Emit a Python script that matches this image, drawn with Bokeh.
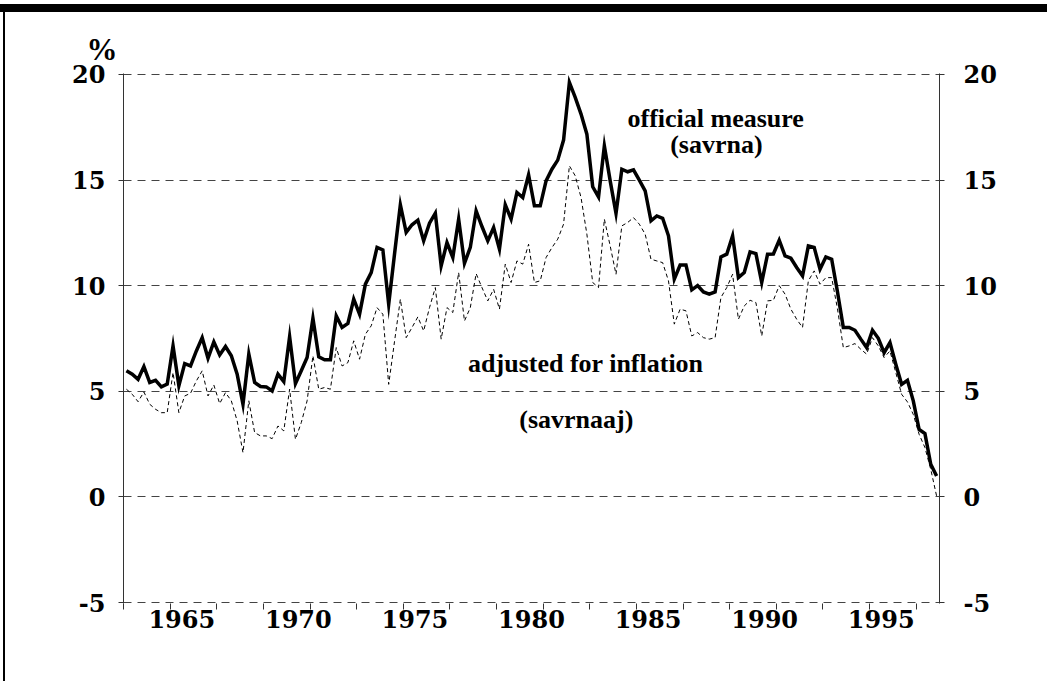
import pandas as pd
from bokeh.plotting import figure
from bokeh.models import Range1d, LinearAxis, FixedTicker, Label, InlineStyleSheet
from bokeh.embed import file_html
from bokeh.resources import INLINE

# ---------------- data (quarterly, 1963Q1 - 1997Q4) ----------------
quarters = pd.period_range("1963Q1", "1997Q4", freq="Q")

savrna = [
    5.97, 5.81, 5.57, 6.17, 5.42, 5.52, 5.21, 5.34, 7.15, 5.26,
    6.31, 6.20, 6.91, 7.54, 6.57, 7.34, 6.72, 7.12, 6.68, 5.81,
    4.39, 6.76, 5.42, 5.23, 5.21, 5.02, 5.81, 5.46, 7.59, 5.36,
    5.97, 6.60, 8.46, 6.63, 6.49, 6.49, 8.57, 8.02, 8.21, 9.36,
    8.65, 10.07, 10.62, 11.81, 11.69, 9.12, 11.50, 13.83, 12.52, 12.88,
    13.10, 12.12, 12.96, 13.43, 10.94, 12.04, 11.33, 13.15, 11.06, 11.81,
    13.54, 12.80, 12.12, 12.75, 11.73, 13.83, 13.15, 14.41, 14.17, 15.25,
    13.78, 13.78, 14.96, 15.51, 15.94, 16.89, 19.62, 18.91, 18.12, 17.17,
    14.68, 14.20, 16.62, 14.96, 13.42, 15.51, 15.39, 15.48, 14.99, 14.49,
    13.07, 13.30, 13.19, 12.36, 10.31, 10.98, 10.98, 9.80, 10.00, 9.70,
    9.60, 9.70, 11.36, 11.49, 12.36, 10.38, 10.62, 11.60, 11.52, 10.15,
    11.49, 11.50, 12.15, 11.41, 11.30, 10.86, 10.46, 11.88, 11.81, 10.78,
    11.36, 11.25, 9.70, 8.02, 8.02, 7.89, 7.47, 7.07, 7.89, 7.51,
    6.83, 7.31, 6.28, 5.33, 5.52, 4.55, 3.20, 3.00, 1.55, 0.99,
]

savrnaaj = [
    5.10, 4.86, 4.51, 4.97, 4.39, 4.15, 3.99, 3.99, 5.89, 3.99,
    4.78, 4.91, 5.49, 5.97, 4.78, 5.30, 4.42, 4.94, 4.55, 3.60,
    2.10, 4.55, 3.05, 2.89, 2.89, 2.76, 3.36, 3.13, 5.10, 2.73,
    3.52, 4.55, 6.68, 5.10, 5.18, 5.10, 7.07, 6.20, 6.36, 7.39,
    6.52, 7.70, 8.10, 8.96, 8.65, 5.33, 7.36, 9.36, 7.54, 8.02,
    8.52, 7.86, 8.96, 9.91, 7.47, 8.96, 8.73, 10.62, 8.33, 8.96,
    10.57, 9.91, 9.28, 9.83, 8.89, 11.02, 10.15, 11.17, 11.02, 11.96,
    10.15, 10.23, 11.33, 11.80, 12.20, 12.91, 15.67, 15.20, 14.17, 12.44,
    10.15, 9.91, 13.15, 11.88, 10.54, 12.83, 12.99, 13.22, 12.91, 12.44,
    11.25, 11.17, 11.09, 10.23, 8.18, 8.89, 8.81, 7.62, 7.78, 7.54,
    7.47, 7.54, 9.44, 9.91, 10.54, 8.41, 9.04, 9.31, 9.20, 7.62,
    9.28, 9.31, 10.00, 9.60, 8.89, 8.41, 8.02, 10.23, 10.70, 10.07,
    10.38, 10.38, 8.90, 7.07, 7.15, 7.26, 6.99, 6.76, 7.54, 7.15,
    6.60, 6.91, 5.89, 4.86, 4.50, 3.91, 2.97, 2.34, 1.31, 0.05,
]

year_labels = ["1965", "1970", "1975", "1980", "1985", "1990", "1995"]
minor_years = list(range(1963, 1998, 2))
y_ticks = [-5, 0, 5, 10, 15, 20]
y_labels = ["-5", "0", "5", "10", "15", "20"]

# mid-quarter decimal year
xq = [q.year + (q.quarter - 1) / 4 + 0.125 for q in quarters]

# ---------------- figure ----------------
W, H = 1047, 681
p = figure(width=W, height=H, output_backend="svg", toolbar_location=None,
           x_range=Range1d(1963, 1998), y_range=Range1d(-5.04, 20.04),
           min_border_left=123, min_border_right=108,
           min_border_top=73, min_border_bottom=78)
p.outline_line_color = None
p.background_fill_color = "white"
p.border_fill_color = "white"

TICK_FONT = "DejaVu Serif"
TEXT_FONT = "Liberation Serif"
AX_COLOR = "#333333"

# x axis: labels centred mid-year, tick marks at odd years
xa = p.xaxis[0]
xa.ticker = FixedTicker(ticks=[int(l) + 0.5 for l in year_labels], minor_ticks=minor_years)
xa.major_label_overrides = {int(l) + 0.5: l for l in year_labels}
xa.axis_line_color = None
xa.major_tick_in = 0
xa.major_tick_out = 0
xa.minor_tick_in = 0
xa.minor_tick_out = 6
xa.minor_tick_line_color = AX_COLOR
xa.major_label_standoff = 0
xa.major_label_text_font = TICK_FONT
xa.major_label_text_font_style = "bold"
xa.major_label_text_font_size = "24px"
xa.major_label_text_color = "black"

def style_y(ax, standoff):
    ax.ticker = FixedTicker(ticks=y_ticks)
    ax.major_label_overrides = dict(zip(y_ticks, y_labels))
    ax.axis_line_color = AX_COLOR
    ax.axis_line_width = 1
    ax.major_tick_in = 0
    ax.major_tick_out = 5
    ax.major_tick_line_color = AX_COLOR
    ax.minor_tick_line_color = None
    ax.major_label_standoff = standoff
    ax.major_label_text_font = TICK_FONT
    ax.major_label_text_font_style = "bold"
    ax.major_label_text_font_size = "24px"
    ax.major_label_text_color = "black"

style_y(p.yaxis[0], 13)
ra = LinearAxis()
style_y(ra, 19)
p.add_layout(ra, "right")

p.xgrid.visible = False
p.ygrid.ticker = FixedTicker(ticks=y_ticks)
p.ygrid.grid_line_color = "#444444"
p.ygrid.grid_line_dash = "8 6"
p.ygrid.grid_line_width = 1

# "%" unit label above the left axis
p.title.text = "%"
p.title.align = "left"
p.title.offset = -37
p.title.standoff = 14
p.title.text_font = TEXT_FONT
p.title.text_font_style = "bold"
p.title.text_font_size = "31px"
p.title.text_color = "black"

# ---------------- series ----------------
p.line(xq, savrnaaj, line_color="black", line_width=1, line_dash="4 3")
p.line(xq, savrna, line_color="black", line_width=3.5, line_join="miter")

# ---------------- annotations ----------------
def lab(x, y, t):
    p.add_layout(Label(x=x, y=y, text=t, text_align="center", text_baseline="alphabetic",
                       text_font=TEXT_FONT, text_font_style="bold",
                       text_font_size="26px", text_color="black"))

lab(1988.40, 17.93, "official measure")
lab(1988.43, 16.70, "(savrna)")
lab(1982.83, 6.34, "adjusted for inflation")
lab(1982.42, 3.65, "(savrnaaj)")

# page frame decoration: heavy rule across the top and thin rule on the left
p.stylesheets.append(InlineStyleSheet(css="""
:host { position: relative; }
:host::before { content: ""; position: absolute; left: 0; top: 4px; width: 100%; height: 8px;
                background: #000; z-index: 50; pointer-events: none; }
:host::after { content: ""; position: absolute; left: 3px; top: 4px; width: 2px; height: 100%;
               background: #000; z-index: 50; pointer-events: none; }
"""))

open("out.html", "w").write(file_html(p, INLINE))
